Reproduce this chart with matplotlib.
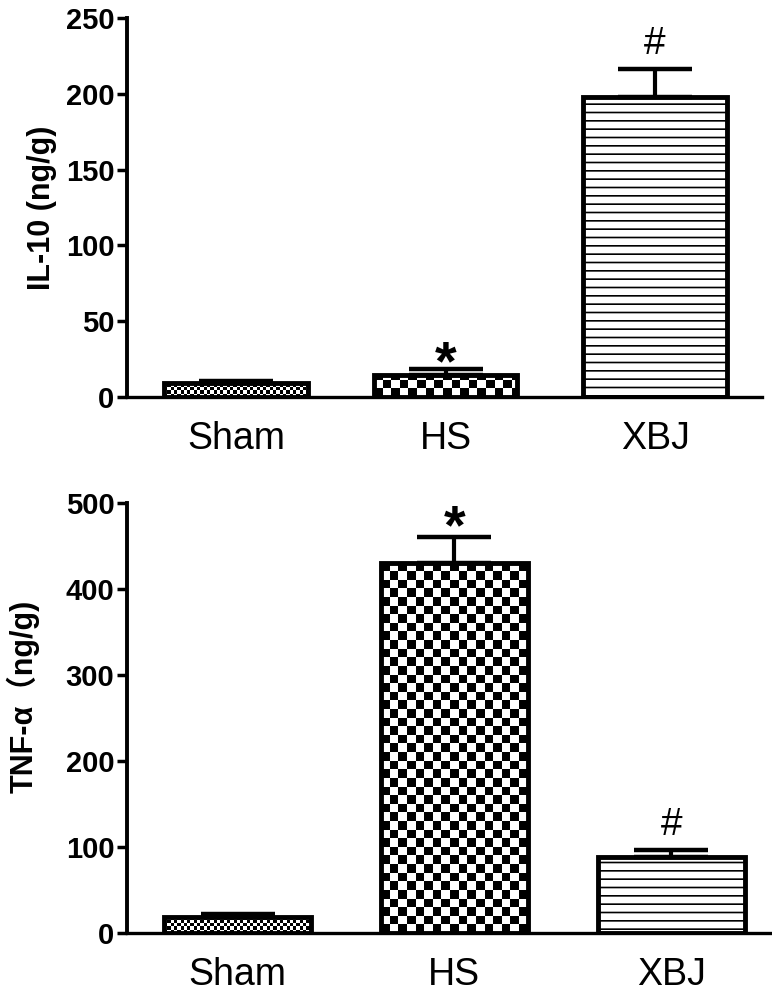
import matplotlib
matplotlib.use('Agg')
import matplotlib.pyplot as plt
import numpy as np

groups = ['Sham', 'HS', 'XBJ']

il10_mean = [9.2, 14.5, 197.7]
il10_sem = [1.5, 3.7, 18.5]
il10_marks = ['', '*', '#']

tnf_mean = [18.6, 430.6, 88.7]
tnf_sem = [3.0, 30.0, 8.0]
tnf_marks = ['', '*', '#']

plt.rcParams['font.family'] = ['Liberation Sans', 'Noto Sans CJK SC', 'DejaVu Sans']
plt.rcParams['hatch.linewidth'] = 1.2

FIG_W, FIG_H = 772, 997


def checker_fill(ax, patch, cell_px, zorder=2):
    # checkerboard pattern clipped to one bar
    x0, y0 = patch.get_x(), patch.get_y()
    w, h = patch.get_width(), patch.get_height()
    p0 = ax.transData.transform((x0, y0))
    p1 = ax.transData.transform((x0 + w, y0 + h))
    nx = int(np.ceil((p1[0] - p0[0]) / cell_px)) + 1
    ny = int(np.ceil((p1[1] - p0[1]) / cell_px)) + 1
    img = np.indices((ny, nx)).sum(axis=0) % 2
    q1 = ax.transData.inverted().transform((p0[0] + nx * cell_px, p0[1] + ny * cell_px))
    im = ax.imshow(img, cmap='gray', vmin=0, vmax=1, extent=(x0, q1[0], y0, q1[1]),
                   origin='lower', interpolation='nearest', aspect='auto', zorder=zorder)
    im.set_clip_path(patch)


def panel(ax, means, sems, marks, ymax, ystep, xlim, ylabel, label_xy, mark_off, width):
    x = np.arange(len(groups))
    ax.set_xlim(*xlim)
    ax.set_ylim(0, ymax)

    bars = ax.bar(x, means, width=width, facecolor='none', edgecolor='black',
                  linewidth=3.5, zorder=3)
    # XBJ: horizontal lines
    ax.bar(x[2:], means[2:], width=width, facecolor='white', edgecolor='black',
           hatch='--', linewidth=0, zorder=2)
    checker_fill(ax, bars[0], 3.3)
    checker_fill(ax, bars[1], 8.6)

    ax.errorbar(x, means, yerr=[np.zeros(len(sems)), sems], fmt='none', ecolor='black',
                elinewidth=3, capsize=26.5, capthick=3.2, zorder=4)

    for xi, m, s, mk, off in zip(x, means, sems, marks, mark_off):
        if not mk:
            continue
        if mk == '*':
            ax.annotate(mk, xy=(xi, m + s), xytext=(0, off), textcoords='offset points',
                        ha='center', va='baseline', fontsize=40, fontweight='bold')
        else:
            ax.annotate(mk, xy=(xi, m + s), xytext=(0, off), textcoords='offset points',
                        ha='center', va='baseline', fontsize=28)

    ax.set_xlim(*xlim)
    ax.set_ylim(0, ymax)

    for side in ['top', 'right']:
        ax.spines[side].set_visible(False)
    ax.spines['left'].set_linewidth(2.8)
    ax.spines['bottom'].set_linewidth(2.4)

    ax.set_yticks(np.arange(0, ymax + 1, ystep))
    ax.tick_params(axis='y', length=7, width=2.5, pad=2, labelsize=21)
    for t in ax.get_yticklabels():
        t.set_fontweight('bold')

    ax.set_xticks(x)
    ax.set_xticklabels(groups)
    ax.set_xticks([1], minor=True)
    ax.tick_params(axis='x', which='major', length=0, pad=17, labelsize=27)
    ax.tick_params(axis='x', which='minor', length=9, width=2.4)

    ax.set_ylabel(ylabel, fontsize=22, fontweight='bold')
    ax.yaxis.set_label_coords(*label_xy)


fig = plt.figure(figsize=(FIG_W / 100, FIG_H / 100), dpi=100)

ax1 = fig.add_axes([127 / FIG_W, 1 - 397 / FIG_H, (762 - 127) / FIG_W, (397 - 18) / FIG_H])
ax2 = fig.add_axes([127 / FIG_W, 1 - 933 / FIG_H, (771 - 127) / FIG_W, (933 - 503) / FIG_H])

panel(ax1, il10_mean, il10_sem, il10_marks, 250, 50, (-0.52, 2.51), 'IL-10 (ng/g)',
      (-0.11, 0.5), [0, -7, 11], 0.686)
panel(ax2, tnf_mean, tnf_sem, tnf_marks, 500, 100, (-0.51, 2.46), 'TNF-α（ng/g)',
      (-0.135, 0.55), [0, -4.5, 11], 0.68)

fig.savefig('out.png', dpi=100)
